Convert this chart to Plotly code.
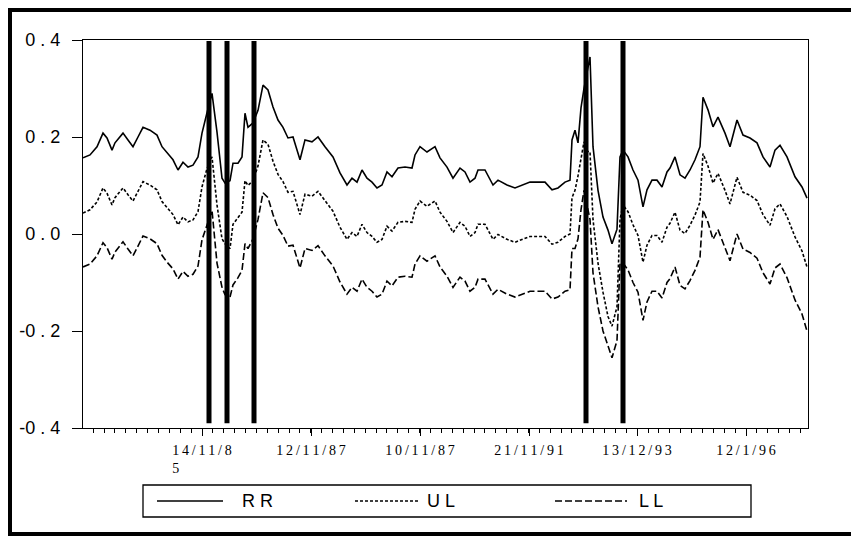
import plotly.graph_objects as go

# ---------------- data ----------------
obs = [0, 7, 14, 20, 24, 29, 32, 40, 45, 50,
       55, 60, 67, 74, 79, 84, 90, 95, 100, 105,
       110, 115, 119, 124, 129, 134, 139, 142, 147, 150,
       155, 159, 162, 165, 170, 175, 180, 185, 190, 195,
       200, 205, 210, 217, 222, 229, 235, 242, 250, 257,
       264, 269, 274, 279, 284, 289, 294, 299, 304, 309,
       315, 322, 329, 332, 337, 344, 352, 357, 364, 370,
       377, 382, 387, 392, 395, 402, 410, 415, 424, 432,
       439, 447, 454, 462, 469, 475, 482, 487, 489, 492,
       495, 498, 501, 504, 507, 510, 515, 520, 525, 529,
       534, 537, 540, 545, 550, 555, 560, 564, 569, 574,
       579, 584, 587, 592, 597, 602, 607, 612, 617, 620,
       625, 630, 635, 642, 647, 654, 660, 667, 674, 680,
       687, 692, 697, 704, 712, 719, 724]

RR = [0.157, 0.163, 0.180, 0.208, 0.198, 0.173, 0.188, 0.208, 0.194, 0.180,
      0.200, 0.220, 0.214, 0.204, 0.180, 0.167, 0.153, 0.132, 0.148, 0.138,
      0.142, 0.159, 0.208, 0.250, 0.290, 0.210, 0.115, 0.105, 0.110, 0.146,
      0.146, 0.159, 0.249, 0.220, 0.229, 0.255, 0.307, 0.297, 0.262, 0.235,
      0.220, 0.198, 0.200, 0.153, 0.194, 0.190, 0.200, 0.180, 0.159, 0.126,
      0.101, 0.115, 0.107, 0.132, 0.115, 0.107, 0.095, 0.101, 0.128, 0.118,
      0.136, 0.138, 0.136, 0.163, 0.180, 0.169, 0.180, 0.157, 0.138, 0.115,
      0.136, 0.128, 0.107, 0.115, 0.132, 0.132, 0.101, 0.111, 0.101, 0.095,
      0.101, 0.107, 0.107, 0.107, 0.091, 0.095, 0.107, 0.111, 0.194, 0.214,
      0.188, 0.260, 0.300, 0.330, 0.365, 0.180, 0.090, 0.035, 0.008, -0.020,
      0.010, 0.159, 0.173, 0.159, 0.132, 0.111, 0.056, 0.091, 0.111, 0.111,
      0.097, 0.128, 0.136, 0.159, 0.122, 0.115, 0.132, 0.153, 0.180, 0.282,
      0.256, 0.221, 0.241, 0.208, 0.180, 0.235, 0.204, 0.198, 0.188, 0.159,
      0.138, 0.173, 0.183, 0.159, 0.118, 0.097, 0.074]

UL = [0.043, 0.050, 0.066, 0.095, 0.084, 0.060, 0.075, 0.095, 0.081, 0.068,
      0.088, 0.108, 0.101, 0.091, 0.067, 0.054, 0.040, 0.019, 0.035, 0.025,
      0.029, 0.046, 0.097, 0.135, 0.159, 0.060, -0.010, -0.020, -0.030, 0.020,
      0.035, 0.045, 0.110, 0.100, 0.110, 0.140, 0.194, 0.185, 0.150, 0.123,
      0.108, 0.086, 0.088, 0.040, 0.082, 0.078, 0.088, 0.068, 0.047, 0.014,
      -0.011, 0.003, -0.005, 0.020, 0.003, -0.005, -0.017, -0.011, 0.016, 0.006,
      0.024, 0.026, 0.024, 0.051, 0.068, 0.057, 0.068, 0.045, 0.026, 0.003,
      0.024, 0.016, -0.005, 0.003, 0.020, 0.020, -0.011, -0.001, -0.011, -0.017,
      -0.011, -0.005, -0.005, -0.005, -0.021, -0.017, -0.005, 0.000, 0.075, 0.090,
      0.120, 0.160, 0.190, 0.170, 0.170, 0.030, -0.060, -0.120, -0.170, -0.190,
      -0.150, 0.030, 0.060, 0.046, 0.019, -0.003, -0.058, -0.023, -0.003, -0.003,
      -0.017, 0.014, 0.022, 0.045, 0.008, 0.001, 0.018, 0.039, 0.066, 0.166,
      0.140, 0.105, 0.125, 0.090, 0.062, 0.117, 0.086, 0.080, 0.069, 0.040,
      0.018, 0.052, 0.062, 0.036, -0.006, -0.035, -0.068]

LL = [-0.068, -0.062, -0.045, -0.018, -0.028, -0.052, -0.037, -0.016, -0.031, -0.045,
      -0.025, -0.004, -0.010, -0.020, -0.044, -0.058, -0.072, -0.093, -0.077, -0.087,
      -0.083, -0.066, -0.012, 0.020, 0.049, -0.060, -0.110, -0.125, -0.130, -0.105,
      -0.090, -0.075, -0.020, -0.030, -0.010, 0.030, 0.085, 0.075, 0.040, 0.012,
      -0.003, -0.025, -0.023, -0.070, -0.030, -0.034, -0.024, -0.045, -0.066, -0.099,
      -0.124, -0.110, -0.118, -0.093, -0.110, -0.118, -0.130, -0.124, -0.097, -0.107,
      -0.089, -0.087, -0.089, -0.062, -0.045, -0.056, -0.045, -0.068, -0.087, -0.110,
      -0.089, -0.097, -0.118, -0.110, -0.093, -0.093, -0.124, -0.114, -0.124, -0.130,
      -0.124, -0.118, -0.118, -0.118, -0.134, -0.130, -0.118, -0.115, -0.030, -0.030,
      -0.010, 0.050, 0.090, 0.060, 0.030, -0.080, -0.150, -0.200, -0.230, -0.255,
      -0.220, -0.060, -0.060, -0.074, -0.100, -0.120, -0.178, -0.140, -0.118, -0.118,
      -0.132, -0.100, -0.092, -0.068, -0.106, -0.113, -0.096, -0.075, -0.048, 0.050,
      0.024, -0.011, 0.009, -0.026, -0.055, 0.000, -0.031, -0.038, -0.050, -0.080,
      -0.103, -0.070, -0.062, -0.090, -0.136, -0.165, -0.200]

# crisis markers (observation positions of the thick vertical bars)
break_obs = [126, 144, 171, 503, 540]

x_tickvals = [119, 228, 337, 446, 554, 663]
x_ticklabels = ["14/11/8\n5", "12/11/87", "10/11/87", "21/11/91", "13/12/93", "12/1/96"]
y_tickvals = [-0.4, -0.2, 0.0, 0.2, 0.4]
y_ticklabels = ["-0.4", "-0.2", "0.0", "0.2", "0.4"]

series_names = ["RR", "UL", "LL"]

# ---------------- styling helpers ----------------
THIN = "\u2009"
NBSP = "\u00a0"


def spaced_x(lbl):
    lines = lbl.split("\n")
    out = [THIN.join(list(s)) for s in lines]
    if len(out) > 1:
        out[1] = out[1] + NBSP * 15
    return "<br>".join(out)


def spaced_y(lbl):
    return lbl.replace(".", " . ")


dashes = {"RR": "solid", "UL": "3px,2px", "LL": "7px,3px"}
values = {"RR": RR, "UL": UL, "LL": LL}

fig = go.Figure()
for name in series_names:
    fig.add_trace(go.Scatter(
        x=obs, y=values[name], mode="lines", name=name,
        line=dict(color="black", width=1.6, dash=dashes[name]),
        hoverinfo="skip", showlegend=False))

# the page body adds an 8px margin; size the figure so it fits the window
OFF = 8
W, H = 859 - OFF, 536 - OFF
ML, MT = 83 - OFF, 40 - OFF
PW, PH = 725, 388
MR, MB = W - ML - PW, H - MT - PH


def px2x(px):
    return (px - OFF - ML) / PW


def py2y(py):
    return (H - MB - (py - OFF)) / PH


shapes = []
for b in break_obs:
    shapes.append(dict(type="line", xref="x", yref="y", x0=b, x1=b, y0=-0.39, y1=0.398,
                       line=dict(color="black", width=5), layer="above"))

# outer frame
shapes.append(dict(type="rect", xref="paper", yref="paper",
                   x0=px2x(10), x1=px2x(855), y0=py2y(534), y1=py2y(10),
                   line=dict(color="black", width=4)))
# legend box
shapes.append(dict(type="rect", xref="paper", yref="paper",
                   x0=px2x(143), x1=px2x(751), y0=py2y(517), y1=py2y(485),
                   line=dict(color="black", width=1.3)))

legend_items = [("RR", 157, 223, 240), ("UL", 355, 418, 425), ("LL", 555, 627, 637)]
annotations = []
for name, lx0, lx1, tx in legend_items:
    shapes.append(dict(type="line", xref="paper", yref="paper",
                       x0=px2x(lx0), x1=px2x(lx1), y0=py2y(501), y1=py2y(501),
                       line=dict(color="black", width=1.3, dash=dashes[name])))
    annotations.append(dict(xref="paper", yref="paper", x=px2x(tx), y=py2y(501),
                            text=" ".join(list(name)), showarrow=False,
                            xanchor="left", yanchor="middle",
                            font=dict(family="Liberation Sans", size=18, color="black")))

fig.update_layout(
    width=W, height=H,
    margin=dict(l=ML, r=MR, t=MT, b=MB),
    paper_bgcolor="white", plot_bgcolor="white",
    shapes=shapes, annotations=annotations,
    showlegend=False,
)
fig.update_xaxes(
    range=[0, PW], showgrid=False, zeroline=False, automargin=False,
    showline=True, linecolor="black", linewidth=1.3, mirror=True,
    tickmode="array", tickvals=x_tickvals,
    ticktext=[spaced_x(t) for t in x_ticklabels],
    ticks="outside", ticklen=7, tickwidth=1.2, tickcolor="black",
    tickfont=dict(family="Liberation Serif", size=14, color="black"),
    ticklabelstandoff=2,
    minor=dict(tickmode="linear", tick0=x_tickvals[0], dtick=(x_tickvals[-1] - x_tickvals[0]) / 50,
               ticks="outside", ticklen=4, tickwidth=1, tickcolor="black", showgrid=False),
)
fig.update_yaxes(
    range=[-0.4, 0.4], showgrid=False, zeroline=False, automargin=False,
    showline=True, linecolor="black", linewidth=1.3, mirror=True,
    tickmode="array", tickvals=y_tickvals,
    ticktext=[spaced_y(t) for t in y_ticklabels],
    ticks="outside", ticklen=10, tickwidth=1.2, tickcolor="black",
    tickfont=dict(family="Liberation Sans", size=18, color="black"),
    ticklabelstandoff=8,
)

fig.write_html("out.html")
